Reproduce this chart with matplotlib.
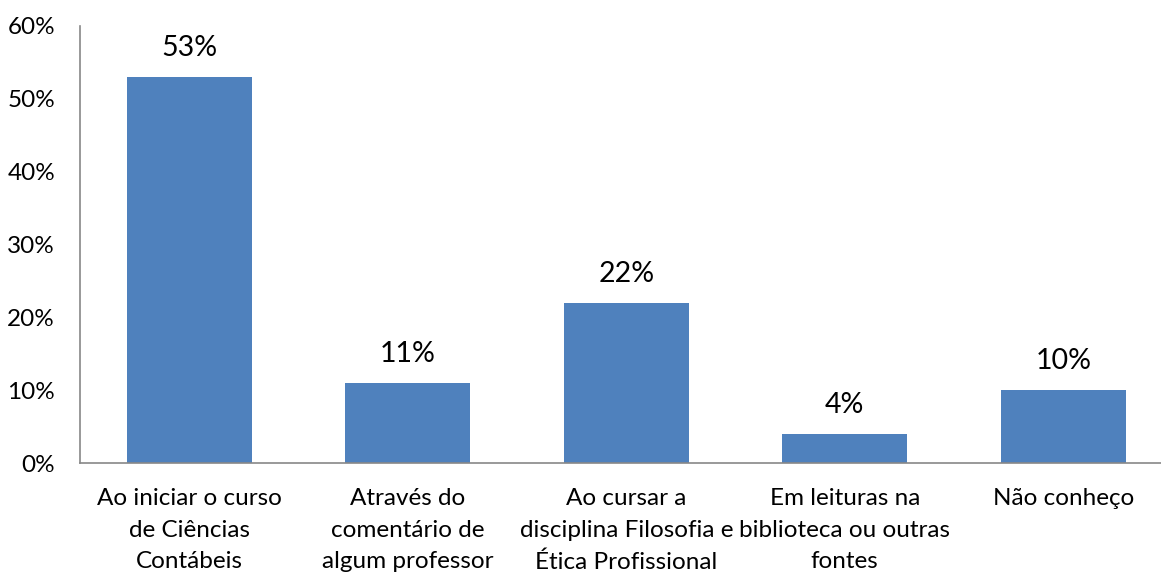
import matplotlib
matplotlib.use("Agg")
import matplotlib.pyplot as plt
from matplotlib.ticker import FuncFormatter

# Data
categories = [
    "Ao iniciar o curso\nde Ciências\nContábeis",
    "Através do\ncomentário de\nalgum professor",
    "Ao cursar a\ndisciplina Filosofia e\nÉtica Profissional",
    "Em leituras na\nbiblioteca ou outras\nfontes",
    "Não conheço",
]
values = [53, 11, 22, 4, 10]
yticks = [0, 10, 20, 30, 40, 50, 60]

plt.rcParams['font.family'] = ['Lato', 'DejaVu Sans']

fig = plt.figure(figsize=(11.61, 5.74), dpi=100)
ax = fig.add_axes([80 / 1161, 1 - 463 / 574, 1092.5 / 1161, (463 - 26) / 574])

x = range(len(categories))
ax.bar(x, values, width=0.57, color='#4F81BD')

for xi, v in zip(x, values):
    ax.text(xi, v + 2.2, f"{v}%", ha='center', va='bottom', fontsize=20.5)

ax.set_xlim(-0.5, 4.5)
ax.set_ylim(0, 60)
ax.set_yticks(yticks)
ax.yaxis.set_major_formatter(FuncFormatter(lambda v, p: f"{int(v)}%"))
ax.set_xticks(list(x))
ax.set_xticklabels(categories, fontsize=17.5, linespacing=1.62)

ax.tick_params(axis='both', length=0)
ax.tick_params(axis='y', labelsize=17.5, pad=18)
ax.tick_params(axis='x', pad=18)

for side in ['top', 'right']:
    ax.spines[side].set_visible(False)
for side in ['left', 'bottom']:
    ax.spines[side].set_color('#888888')
    ax.spines[side].set_linewidth(1.2)

fig.savefig("out.png", dpi=100)
